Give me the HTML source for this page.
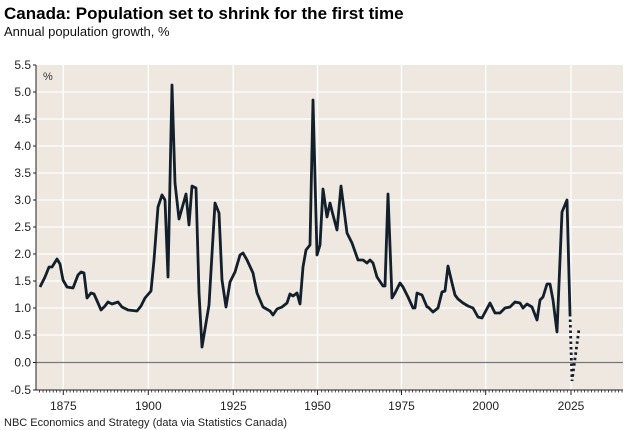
<!DOCTYPE html>
<html><head><meta charset="utf-8"><style>
body{margin:0;background:#fff;}
svg{display:block;font-family:"Liberation Sans",Arial,sans-serif;}
</style></head><body>
<svg width="625" height="430" viewBox="0 0 625 430" xmlns="http://www.w3.org/2000/svg">
<text x="4" y="19" font-size="17" font-weight="bold" fill="#000">Canada: Population set to shrink for the first time</text>
<text x="4" y="36" font-size="13" fill="#111">Annual population growth, %</text>
<rect x="36" y="65" width="587" height="325" fill="#EEE8E1"/>
<g stroke="#fff" stroke-width="1.3">
<line x1="36" x2="623" y1="92" y2="92"/><line x1="36" x2="623" y1="119" y2="119"/><line x1="36" x2="623" y1="146" y2="146"/><line x1="36" x2="623" y1="173" y2="173"/><line x1="36" x2="623" y1="200" y2="200"/><line x1="36" x2="623" y1="227" y2="227"/><line x1="36" x2="623" y1="254" y2="254"/><line x1="36" x2="623" y1="281" y2="281"/><line x1="36" x2="623" y1="308" y2="308"/><line x1="36" x2="623" y1="335" y2="335"/>
<line x1="63.3" x2="63.3" y1="65" y2="390"/><line x1="148.3" x2="148.3" y1="65" y2="390"/><line x1="233.3" x2="233.3" y1="65" y2="390"/><line x1="317.5" x2="317.5" y1="65" y2="390"/><line x1="401.5" x2="401.5" y1="65" y2="390"/><line x1="485.7" x2="485.7" y1="65" y2="390"/><line x1="571" x2="571" y1="65" y2="390"/>
</g>
<line x1="36" x2="623" y1="362.5" y2="362.5" stroke="#777" stroke-width="1.3"/>
<line x1="36" x2="36" y1="65" y2="390" stroke="#222" stroke-width="1"/>
<line x1="36" x2="623" y1="390" y2="390" stroke="#222" stroke-width="1"/>
<g stroke="#222" stroke-width="1">
<line x1="33" x2="36" y1="65" y2="65"/><line x1="33" x2="36" y1="92" y2="92"/><line x1="33" x2="36" y1="119" y2="119"/><line x1="33" x2="36" y1="146" y2="146"/><line x1="33" x2="36" y1="173" y2="173"/><line x1="33" x2="36" y1="200" y2="200"/><line x1="33" x2="36" y1="227" y2="227"/><line x1="33" x2="36" y1="254" y2="254"/><line x1="33" x2="36" y1="281" y2="281"/><line x1="33" x2="36" y1="308" y2="308"/><line x1="33" x2="36" y1="335" y2="335"/><line x1="33" x2="36" y1="362.5" y2="362.5"/><line x1="33" x2="36" y1="390" y2="390"/>
</g>
<path d="M39.6 390v2.5M43 390v2.5M46.4 390v2.5M49.8 390v2.5M53.2 390v2.5M56.6 390v2.5M60 390v2.5M66.7 390v2.5M70.1 390v2.5M73.5 390v2.5M76.9 390v2.5M80.3 390v2.5M83.7 390v2.5M87.1 390v2.5M90.5 390v2.5M93.9 390v2.5M97.3 390v2.5M100.7 390v2.5M104.1 390v2.5M107.5 390v2.5M110.9 390v2.5M114.3 390v2.5M117.7 390v2.5M121.1 390v2.5M124.5 390v2.5M127.9 390v2.5M131.3 390v2.5M134.7 390v2.5M138.1 390v2.5M141.5 390v2.5M144.9 390v2.5M151.7 390v2.5M155.1 390v2.5M158.5 390v2.5M161.9 390v2.5M165.3 390v2.5M168.7 390v2.5M172.1 390v2.5M175.5 390v2.5M178.9 390v2.5M182.3 390v2.5M185.7 390v2.5M189.1 390v2.5M192.5 390v2.5M195.9 390v2.5M199.3 390v2.5M202.7 390v2.5M206.1 390v2.5M209.5 390v2.5M212.9 390v2.5M216.3 390v2.5M219.7 390v2.5M223.1 390v2.5M226.5 390v2.5M229.9 390v2.5M236.7 390v2.5M240.1 390v2.5M243.5 390v2.5M246.9 390v2.5M250.3 390v2.5M253.7 390v2.5M257.1 390v2.5M260.5 390v2.5M263.9 390v2.5M267.3 390v2.5M270.7 390v2.5M274.1 390v2.5M277.5 390v2.5M280.9 390v2.5M284.3 390v2.5M287.7 390v2.5M291.1 390v2.5M294.5 390v2.5M297.9 390v2.5M301.3 390v2.5M304.7 390v2.5M308.1 390v2.5M311.5 390v2.5M314.9 390v2.5M321.7 390v2.5M325.1 390v2.5M328.5 390v2.5M331.9 390v2.5M335.3 390v2.5M338.7 390v2.5M342.1 390v2.5M345.5 390v2.5M348.9 390v2.5M352.3 390v2.5M355.7 390v2.5M359.1 390v2.5M362.5 390v2.5M365.9 390v2.5M369.3 390v2.5M372.7 390v2.5M376.1 390v2.5M379.5 390v2.5M382.9 390v2.5M386.3 390v2.5M389.7 390v2.5M393.1 390v2.5M396.5 390v2.5M399.9 390v2.5M405.7 390v2.5M409.1 390v2.5M412.5 390v2.5M415.9 390v2.5M419.3 390v2.5M422.7 390v2.5M426.1 390v2.5M429.5 390v2.5M432.9 390v2.5M436.3 390v2.5M439.7 390v2.5M443.1 390v2.5M446.5 390v2.5M449.9 390v2.5M453.3 390v2.5M456.7 390v2.5M460.1 390v2.5M463.5 390v2.5M466.9 390v2.5M470.3 390v2.5M473.7 390v2.5M477.1 390v2.5M480.5 390v2.5M483.9 390v2.5M489.1 390v2.5M492.5 390v2.5M495.9 390v2.5M499.3 390v2.5M502.7 390v2.5M506.1 390v2.5M509.5 390v2.5M512.9 390v2.5M516.3 390v2.5M519.7 390v2.5M523.1 390v2.5M526.5 390v2.5M529.9 390v2.5M533.3 390v2.5M536.7 390v2.5M540.1 390v2.5M543.5 390v2.5M546.9 390v2.5M550.3 390v2.5M553.7 390v2.5M557.1 390v2.5M560.5 390v2.5M563.9 390v2.5M567.3 390v2.5M574.4 390v2.5M577.8 390v2.5M581.2 390v2.5M584.6 390v2.5M588 390v2.5M591.4 390v2.5M594.8 390v2.5M598.2 390v2.5M601.6 390v2.5M605 390v2.5M608.4 390v2.5M611.8 390v2.5M615.2 390v2.5M618.6 390v2.5M622 390v2.5" stroke="#222" stroke-width="0.8"/>
<path d="M63.3 390v5M148.3 390v5M233.3 390v5M317.5 390v5M401.5 390v5M485.7 390v5M571 390v5" stroke="#222" stroke-width="1"/>
<g font-size="12" fill="#222" text-anchor="end">
<text x="31" y="69">5.5</text><text x="31" y="96">5.0</text><text x="31" y="123">4.5</text><text x="31" y="150">4.0</text><text x="31" y="177">3.5</text><text x="31" y="204">3.0</text><text x="31" y="231">2.5</text><text x="31" y="258">2.0</text><text x="31" y="285">1.5</text><text x="31" y="312">1.0</text><text x="31" y="339">0.5</text><text x="31" y="366.5">0.0</text><text x="31" y="394">-0.5</text>
</g>
<g font-size="12" fill="#222" text-anchor="middle">
<text x="63.3" y="410">1875</text><text x="148.3" y="410">1900</text><text x="233.3" y="410">1925</text><text x="317.5" y="410">1950</text><text x="401.5" y="410">1975</text><text x="485.7" y="410">2000</text><text x="571" y="410">2025</text>
</g>
<text x="43" y="80" font-size="11" fill="#333">%</text>
<polyline fill="none" stroke="#13202C" stroke-width="2.8" stroke-linejoin="round" points="40,287 45,277 49,267 52,267 57,259 60,264 63,280 67,287 73,288 78,275 81,272 84,273 87,298 91,293 94,294 98,303 101,310 105,306 108,302 112,304 118,302 122,307 128,310 137,311 141,306 145,298 151,291 154,260 158,207 162,195 165,200 168,277 172,85 175,183 179,219 186,194 189,225 192,186 196,188 199,293 202,347 206,323 209,305 215,203 219,213 222,280 226,307 230,282 235,272 240,255 243,253 247,260 253,273 257,293 263,307 270,311 273,315 277,309 282,307 287,303 290,294 293,296 297,293 300,304 303,267 306,250 310,245 313,100 317,255 320,245 323,189 327,217 330,203 333,215 337,230 341,186 347,233 352,243 358,260 363,260 367,263 370,260 373,263 377,277 383,286 385,286 388,194 392,298 395,293 400,283 403,287 408,297 413,308 415,308 417,293 422,295 427,307 428,307 433,312 438,308 442,292 445,291 448,266 452,283 455,295 458,299 463,303 468,306 473,308 478,317 482,318 490,303 495,313 500,313 505,308 510,307 515,302 520,303 523,308 527,304 532,307 537,320 540,300 543,297 547,284 550,284 553,300 557,332 562,212 567,200 570,314"/>
<polyline fill="none" stroke="#13202C" stroke-width="2.8" stroke-dasharray="2.5,3" points="570,314 572,381 579,329"/>
<text x="4" y="426" font-size="11" fill="#222">NBC Economics and Strategy (data via Statistics Canada)</text>
</svg>
</body></html>
